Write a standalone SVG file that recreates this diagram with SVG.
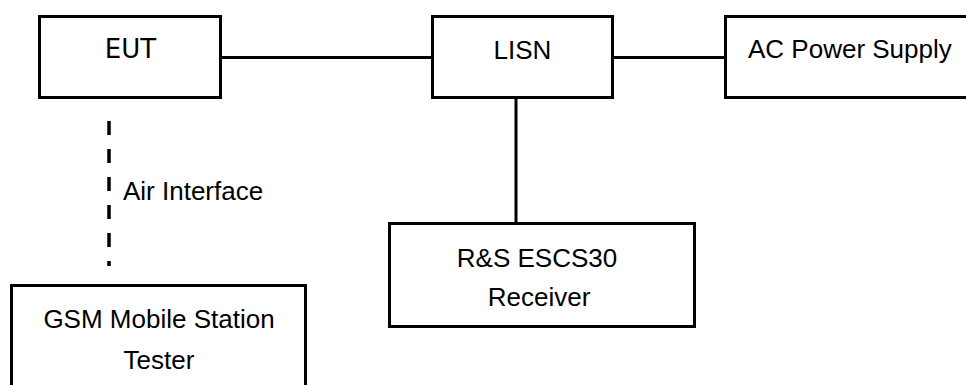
<svg xmlns="http://www.w3.org/2000/svg" width="966" height="385" viewBox="0 0 966 385">
<style>
.box{fill:#fff;stroke:#000;stroke-width:3}
.ln{stroke:#000;stroke-width:3;fill:none}
.dash{stroke:#000;stroke-width:3.5;fill:none;stroke-dasharray:14 14}
text{font-family:"Liberation Sans",Arial,sans-serif;font-size:26px;fill:#000}
.c{text-anchor:middle}
</style>
<rect width="966" height="385" fill="#fff"/>
<g id="connectors">
<line class="ln" x1="221" y1="57.5" x2="432" y2="57.5"/>
<line class="ln" x1="613" y1="57.5" x2="726" y2="57.5"/>
<line class="ln" x1="516" y1="98" x2="516" y2="224"/>
<line class="dash" x1="109" y1="121" x2="109" y2="266"/>
<text x="123" y="200">Air Interface</text>
</g>
<g id="eut">
<rect class="box" x="39.5" y="16.5" width="181" height="81"/>
<text class="c" x="130.5" y="57.5" style="font-family:'DejaVu Sans',sans-serif;font-size:26px">EUT</text>
</g>
<g id="lisn">
<rect class="box" x="432.5" y="16.5" width="180" height="81"/>
<text class="c" x="522.5" y="59">LISN</text>
</g>
<g id="ac">
<rect class="box" x="725.5" y="16.5" width="260" height="81"/>
<text x="748" y="58">AC Power Supply</text>
</g>
<g id="receiver">
<rect class="box" x="389.5" y="223.5" width="305" height="103"/>
<text class="c" x="537" y="266.5">R&amp;S ESCS30</text>
<text class="c" x="539" y="306">Receiver</text>
</g>
<g id="gsm">
<rect class="box" x="11.5" y="285.5" width="294" height="140"/>
<text class="c" x="159" y="328">GSM Mobile Station</text>
<text class="c" x="159" y="369">Tester</text>
</g>
</svg>
